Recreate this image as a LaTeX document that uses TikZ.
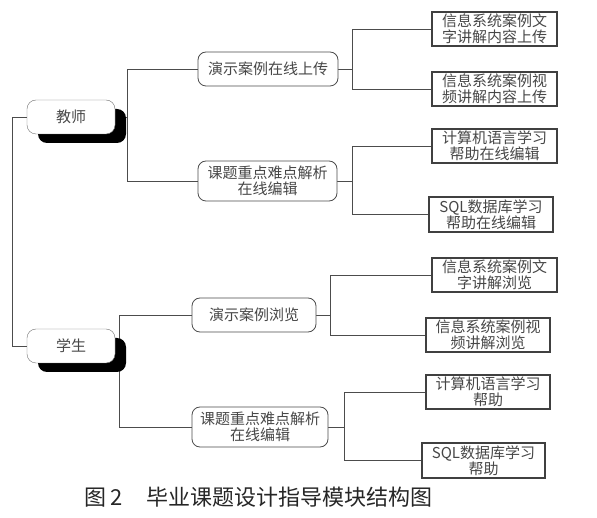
\documentclass[tikz,border=0pt]{standalone}
\usepackage{fontspec}
\usepackage{tikz}
\usetikzlibrary{shadows,backgrounds}
\newfontfamily\cjk{Noto Sans CJK SC}

\begin{document}
\begin{tikzpicture}
  [
    x=1pt, y=-1pt,
    every node/.style = {font=\cjk\fontsize{15}{16}\selectfont, text=black!72},
    root/.style  = {draw=black!55, fill=white, rounded corners=9pt, inner sep=0pt,
                    minimum width=88pt, minimum height=34pt,
                    drop shadow={shadow xshift=11pt, shadow yshift=-9pt, fill=black, opacity=1}},
    mid/.style   = {draw=black!70, line width=0.8pt, fill=white, rounded corners=8pt, inner sep=0pt,
                    align=center, text width=124pt, minimum height=34pt},
    leaf/.style  = {draw=black!75, line width=1.1pt, fill=white, inner sep=0pt,
                    align=center, text width=112pt, minimum height=34pt},
    link/.style  = {draw=black!70, line width=0.9pt},
  ]

%Page frame
\useasboundingbox (0,0) rectangle (597,518);

%Horizontal offset of the joints
\def \trunk{14}

%Roots
\node[root] (teacher) at (71,117) {教师};
\node[root] (student) at (71,346) {学生};

%Middle level
\node[mid, minimum width=140pt] (upload) at (268,69) {演示案例在线上传};
\node[mid, minimum width=139pt, minimum height=40pt] (tedit) at (267.5,181) {课题重点难点解析\\在线编辑};
\node[mid, minimum width=108pt] (browse) at (254,315) {演示案例浏览};
\node[mid, minimum width=136pt, minimum height=40pt] (sedit) at (260,427) {课题重点难点解析\\在线编辑};

%Leaves of the teacher
\node[leaf, minimum width=125pt] (up1) at (494.5,29) {信息系统案例文\\字讲解内容上传};
\node[leaf, minimum width=125pt] (up2) at (494.5,89) {信息系统案例视\\频讲解内容上传};
\node[leaf, minimum width=125pt] (te1) at (494.5,146) {计算机语言学习\\帮助在线编辑};
\node[leaf, minimum width=124pt, minimum height=35pt] (te2) at (491,214.5) {SQL数据库学习\\帮助在线编辑};

%Leaves of the student
\node[leaf, minimum width=125pt] (br1) at (494.5,275) {信息系统案例文\\字讲解浏览};
\node[leaf, minimum width=124pt] (br2) at (488,335) {信息系统案例视\\频讲解浏览};
\node[leaf, minimum width=124pt] (se1) at (488,392) {计算机语言学习\\帮助};
\node[leaf, minimum width=123pt, minimum height=35pt] (se2) at (483.5,460.5) {SQL数据库学习\\帮助};

%Caption
\node[anchor=west, text=black!85, font=\cjk\fontsize{22}{24}\selectfont] (caption) at (81,497)
  {图\,2\hspace{24pt}毕业课题设计指导模块结构图};

%Joints
\coordinate (jt) at ([xshift=-70]upload.west);
\coordinate (js) at ([xshift=-72]browse.west);
\coordinate (ju) at ([xshift=\trunk]upload.east);
\coordinate (je) at ([xshift=15]tedit.east);
\coordinate (jb) at ([xshift=\trunk]browse.east);
\coordinate (jd) at ([xshift=16]sedit.east);

\begin{scope}[on background layer]
\draw[link] (teacher.west) -- ++(-\trunk,0) |- (student.west);

\draw[link] (teacher.east) -- (teacher.east -| jt);
\draw[link] (upload.west) -| (jt) |- (tedit.west);
\draw[link] (student.east) -- (student.east -| js);
\draw[link] (browse.west) -| (js) |- (sedit.west);

\draw[link] (upload.east) -- (ju);
\draw[link] (up1.west) -| (ju) |- (up2.west);
\draw[link] (tedit.east) -- (je);
\draw[link] (te1.west) -| (je) |- (te2.west);

\draw[link] (browse.east) -- (jb);
\draw[link] (br1.west) -| (jb) |- (br2.west);
\draw[link] (sedit.east) -- (jd);
\draw[link] (se1.west) -| (jd) |- (se2.west);
\end{scope}
\end{tikzpicture}
\end{document}
